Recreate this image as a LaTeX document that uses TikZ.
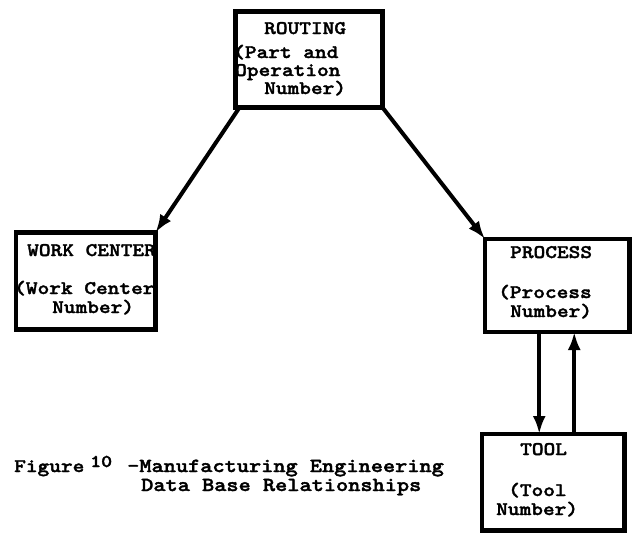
\documentclass[tikz,border=0pt]{standalone}
\usepackage{fontspec}
\usetikzlibrary{arrows.meta}
% heavy serif typewriter face used for every label
\newfontfamily\twfont[FakeStretch=1.16,FakeBold=1.8]{lmmonolt10-bold.otf}
\tikzset{
  entity/.style={draw, line width=4.5pt, rectangle, outer sep=0pt, inner sep=0pt},
  txt/.style={inner sep=0pt, anchor=base west,
              font=\twfont\fontsize{19.2}{19.2}\selectfont},
  captxt/.style={inner sep=0pt, anchor=base west,
              font=\twfont\fontsize{20}{20}\selectfont},
  supnum/.style={inner sep=0pt, anchor=base west,
              font=\twfont\fontsize{18}{18}\selectfont},
  link/.style={line width=4pt, -{Latex[length=18pt,width=13pt]}}
}
\begin{document}
\begin{tikzpicture}[x=1pt,y=1pt]
\useasboundingbox (0,0) rectangle (638,-533);

% entity boxes
\node[entity, minimum width=147pt,   minimum height=96pt]   (routing) at (309,-59.5)     {};
\node[entity, minimum width=139.5pt, minimum height=97pt]   (workc)   at (85.75,-281)    {};
\node[entity, minimum width=144.5pt, minimum height=93pt]   (process) at (557.25,-285.5) {};
\node[entity, minimum width=142.5pt, minimum height=96.5pt] (tool)    at (553.25,-482.25){};

% box labels, one line each
\node[txt] (r1) at (264,-34) {ROUTING};
\node[txt] (r2) at (233,-58) {(Part and};
\node[txt] (r3) at (235,-76) {Operation};
\node[txt] (r4) at (264,-94) {Number)};

\node[txt] (w1) at (27,-256) {WORK CENTER};
\node[txt] (w2) at (14,-294) {(Work Center};
\node[txt] (w3) at (52,-313) {Number)};

\node[txt] (p1) at (510,-258) {PROCESS};
\node[txt] (p2) at (498,-298) {(Process};
\node[txt] (p3) at (510,-317) {Number)};

\node[txt] (t1) at (520,-455) {TOOL};
\node[txt] (t2) at (508,-496) {(Tool};
\node[txt] (t3) at (496,-515) {Number)};

% caption
\node[txt]    (c1) at (14,-472)  {Figure};
\node[supnum] (c2) at (90,-467)  {10};
\node[captxt] (c3) at (127,-472) {-Manufacturing Engineering};
\node[captxt] (c4) at (141,-491) {Data Base Relationships};

% relationships
\draw[link] ([xshift=4pt]routing.south west) -- (workc.north east);
\draw[link] (routing.south east) -- (process.north west);
\draw[link] ([xshift=-18pt]process.south) -- ([xshift=-14pt]tool.north);
\draw[link] ([xshift=21pt]tool.north) -- ([xshift=17pt]process.south);
\end{tikzpicture}
\end{document}
